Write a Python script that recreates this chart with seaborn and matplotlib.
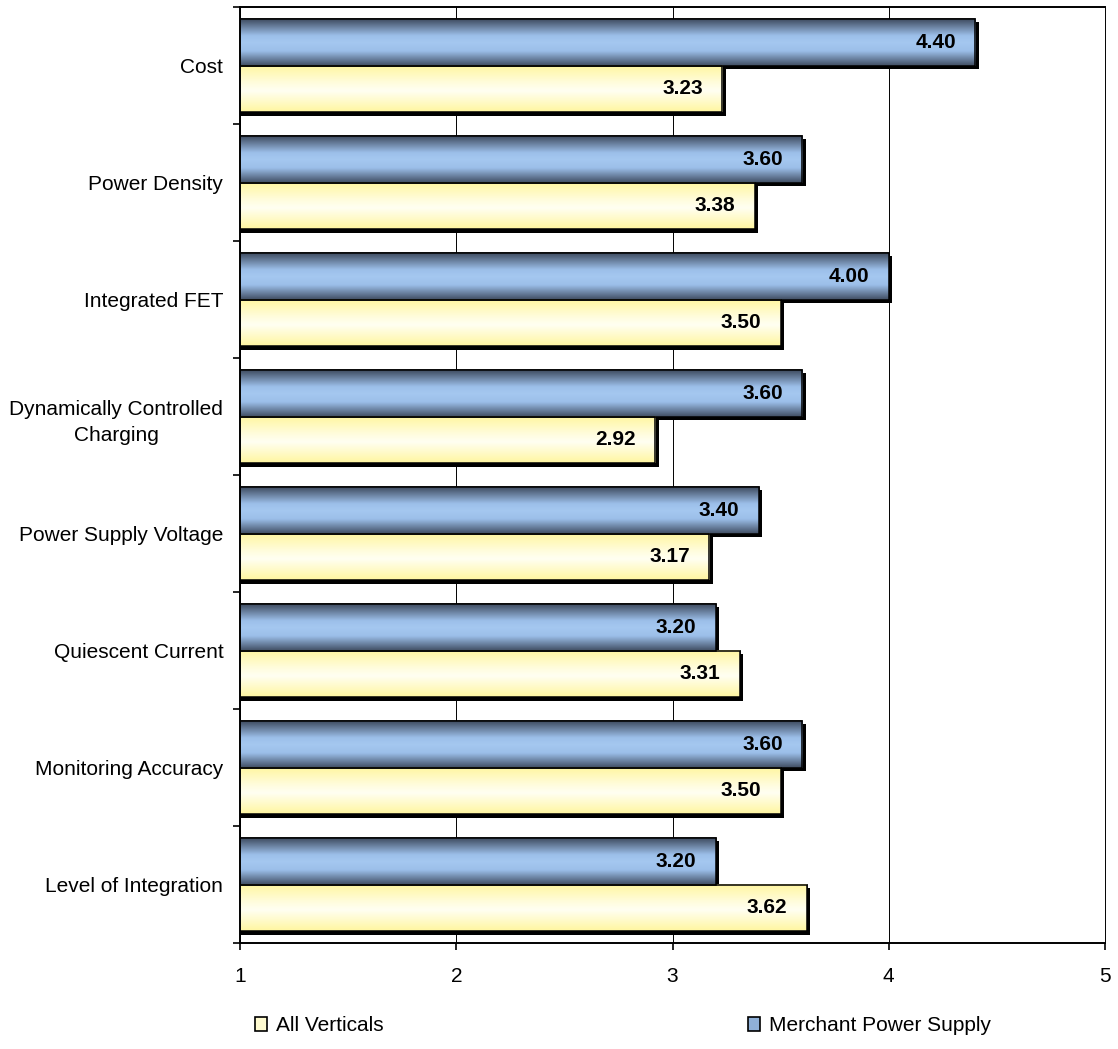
import numpy as np
import pandas as pd
import matplotlib
matplotlib.use("Agg")
import matplotlib.pyplot as plt
import matplotlib.patheffects as pe
from matplotlib.colors import LinearSegmentedColormap
from matplotlib.patches import Patch
import seaborn as sns

categories = ["Cost", "Power Density", "Integrated FET",
              "Dynamically Controlled\nCharging", "Power Supply Voltage",
              "Quiescent Current", "Monitoring Accuracy", "Level of Integration"]
merchant = [4.40, 3.60, 4.00, 3.60, 3.40, 3.20, 3.60, 3.20]
all_verticals = [3.23, 3.38, 3.50, 2.92, 3.17, 3.31, 3.50, 3.62]
series = ["Merchant Power Supply", "All Verticals"]

df = pd.DataFrame({
    "category": categories * 2,
    "value": merchant + all_verticals,
    "series": [series[0]] * len(categories) + [series[1]] * len(categories),
})

sns.set_style("white")
plt.rcParams["font.family"] = ["Liberation Sans", "DejaVu Sans"]
plt.rcParams["text.color"] = "black"
plt.rcParams["xtick.color"] = "black"
plt.rcParams["ytick.color"] = "black"

fig = plt.figure(figsize=(11.18, 10.49), dpi=100)
ax = fig.add_axes([0.2147, 0.1010, 0.7737, 0.8923])

sns.barplot(data=df, x="value", y="category", hue="series", hue_order=series,
            order=categories, orient="h", ax=ax, width=0.8,
            edgecolor="black", linewidth=1.1, legend=False, zorder=2)

blue_cmap = LinearSegmentedColormap.from_list(
    "blue", [(0, "#3f4c61"), (0.35, "#9cbfe9"), (0.5, "#a5c8f0"),
             (0.68, "#9cbfe9"), (1, "#3f4c61")])
yellow_cmap = LinearSegmentedColormap.from_list(
    "yellow", [(0, "#fff6a0"), (0.4, "#fffde0"), (0.55, "#fffff2"),
               (1, "#fff6a0")])
grad = np.linspace(0, 1, 200).reshape(-1, 1)

shadow = [pe.SimplePatchShadow(offset=(2.4, -2.4), shadow_rgbFace="black", alpha=1.0),
          pe.Normal()]

xmin = 1
for cont, cmap, vals in zip(ax.containers, [blue_cmap, yellow_cmap], [merchant, all_verticals]):
    for bar, v in zip(cont, vals):
        bar.set_path_effects(shadow)
        x0, y0 = bar.get_x(), bar.get_y()
        w, h = bar.get_width(), bar.get_height()
        ax.imshow(grad, cmap=cmap, aspect="auto",
                  extent=(xmin, x0 + w, y0 + h, y0),
                  zorder=2.5, interpolation="bicubic")
        ax.add_patch(plt.Rectangle((x0, y0), w, h, fill=False, edgecolor="black",
                                   linewidth=1.1, zorder=3))
        ax.annotate(f"{v:.2f}", xy=(x0 + w, y0 + h / 2), xytext=(-14, 0),
                    textcoords="offset points", ha="right", va="center",
                    fontsize=15, fontweight="bold", color="black", zorder=4)

ax.set_xlim(xmin, 5)
ax.set_ylim(len(categories) - 0.5, -0.5)
ax.set_xticks([1, 2, 3, 4, 5])
ax.set_xlabel("")
ax.set_ylabel("")

ax.set_yticks(np.arange(len(categories)))
ax.set_yticklabels(categories, multialignment="center", linespacing=1.5)
ax.set_yticks(np.arange(len(categories) + 1) - 0.5, minor=True)
ax.tick_params(axis="y", which="major", length=0, pad=12, labelsize=15)
ax.tick_params(axis="y", which="minor", length=5, width=1.2, direction="out", left=True)
ax.tick_params(axis="x", length=5, width=1.2, direction="out", bottom=True, pad=12, labelsize=15)

ax.grid(axis="x", color="black", linewidth=0.7, zorder=0)
ax.set_axisbelow(True)
for s in ["top", "left", "bottom"]:
    ax.spines[s].set_color("black")
    ax.spines[s].set_linewidth(1.4)
ax.spines["right"].set_color("black")
ax.spines["right"].set_linewidth(0.7)

handles = [Patch(facecolor="#fffbd0", edgecolor="black", linewidth=1.2),
           Patch(facecolor="#8fb0d8", edgecolor="black", linewidth=1.2)]
fig.legend(handles, ["All Verticals", "Merchant Power Supply"], loc="center",
           bbox_to_anchor=(0.557, 0.022), ncol=2, frameon=False, fontsize=15,
           handlelength=0.6, handleheight=0.6, handletextpad=0.4, columnspacing=17.5)

fig.savefig("out.png", dpi=100)
